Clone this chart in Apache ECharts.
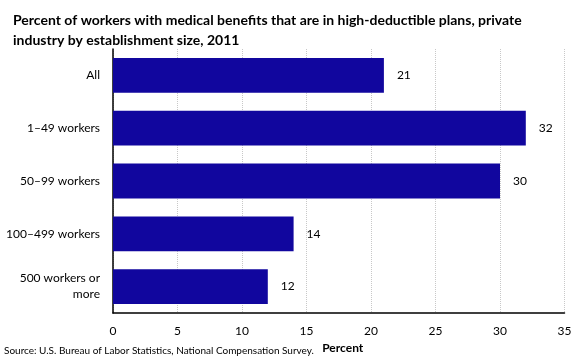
<!DOCTYPE html>
<html><head><meta charset="utf-8">
<script src="https://cdn.jsdelivr.net/npm/echarts@6/dist/echarts.min.js"></script>
<style>html,body{margin:0;padding:0;background:#fff}#c{width:580px;height:360px}</style>
</head><body><div id="c"></div>
<script>
const categories = ['All', '1–49 workers', '50–99 workers', '100–499 workers', '500 workers or\nmore'];
const values = [21, 32, 30, 14, 12];
const xTicks = [0, 5, 10, 15, 20, 25, 30, 35];
const titleText = 'Percent of workers with medical benefits that are in high-deductible plans, private\nindustry by establishment size, 2011';
const sourceText = 'Source: U.S. Bureau of Labor Statistics, National Compensation Survey.';
const FONT = 'Lato';
const chart = echarts.init(document.getElementById('c'), null, {renderer: 'canvas'});
chart.setOption({
  animation: false,
  title: {text: titleText, left: 8, top: 5, textStyle: {fontFamily: FONT, fontWeight: 'bold', fontSize: 14, color: '#000', lineHeight: 20}},
  graphic: [{type: 'text', left: 4, top: 346, style: {text: sourceText, font: '10px ' + FONT, fill: '#000'}}],
  grid: {left: 113, right: 15.5, top: 49, bottom: 47, containLabel: false},
  xAxis: {type: 'value', min: xTicks[0], max: xTicks[xTicks.length - 1], interval: 5,
    name: 'Percent', nameLocation: 'middle', nameGap: 29,
    nameTextStyle: {fontFamily: FONT, fontWeight: 'bold', fontSize: 12, color: '#000', padding: [0, 0, 0, 8]},
    axisLine: {show: true, lineStyle: {color: '#000', width: 1.5}},
    axisTick: {show: false},
    axisLabel: {fontFamily: FONT, fontSize: 12, color: '#000', margin: 12},
    splitLine: {show: true, lineStyle: {color: '#c8c8c8', type: 'dotted'}}},
  yAxis: {type: 'category', data: categories, inverse: true,
    axisLine: {show: true, lineStyle: {color: '#000', width: 1.5}},
    axisTick: {show: false},
    axisLabel: {fontFamily: FONT, fontSize: 12, color: '#000', margin: 13, align: 'right', lineHeight: 16}},
  series: [{type: 'bar', data: values, barCategoryGap: '34%', itemStyle: {color: '#11069E'},
    label: {show: true, position: 'right', distance: 13, fontFamily: FONT, fontSize: 12, color: '#000'}}]
});
</script></body></html>
